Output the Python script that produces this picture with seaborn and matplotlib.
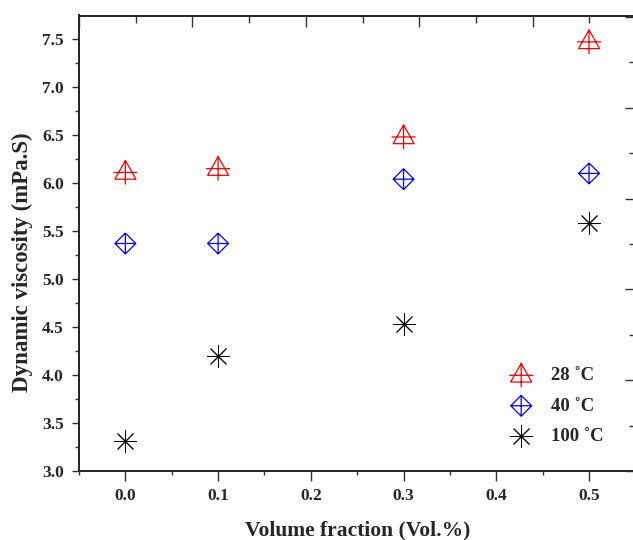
import numpy as np
import pandas as pd
import seaborn as sns
import matplotlib.pyplot as plt
from matplotlib.path import Path
from matplotlib.ticker import MultipleLocator

volume_fraction = [0.0, 0.1, 0.3, 0.5]
visc_28 = [6.11, 6.15, 6.48, 7.47]
visc_40 = [5.37, 5.37, 6.04, 6.10]
visc_100 = [3.31, 4.20, 4.53, 5.58]
labels = ["28 ˚C", "40 ˚C", "100 ˚C"]
colors = ["#ff0000", "#0000ff", "#000000"]

# custom open markers: triangle with a cross, diamond with a cross
M, L = Path.MOVETO, Path.LINETO
tri_plus = Path(
    [(-10.5, -6.7), (0, 12), (10.5, -6.7), (-10.5, -6.7),
     (-12, 0), (12, 0), (0, 12), (0, -12)],
    [M, L, L, L, M, L, M, L],
)
dia_plus = Path(
    [(0, 1), (1, 0), (0, -1), (-1, 0), (0, 1),
     (-1, 0), (1, 0), (0, 1), (0, -1)],
    [M, L, L, L, L, M, L, M, L],
)

df = pd.concat([
    pd.DataFrame({"x": volume_fraction, "y": v, "T": lab})
    for v, lab in zip([visc_28, visc_40, visc_100], labels)
])

sns.set_theme(style="ticks")
plt.rcParams["font.family"] = ["Liberation Serif", "DejaVu Serif"]
plt.rcParams["font.weight"] = "bold"

fig = plt.figure(figsize=(6.33, 5.4), dpi=100)
ax = fig.add_axes([79 / 633, 69 / 540, 556.4 / 633, 455.5 / 540])

specs = [(tri_plus, 300, 0.9), (dia_plus, 225, 0.9), ((8, 2, 0), 240, 0.7)]
for (mk, s, lw), lab, col in zip(specs, labels, colors):
    sub = df[df["T"] == lab]
    kw = {"facecolors": "none", "edgecolors": col} if isinstance(mk, Path) else {}
    sns.scatterplot(x="x", y="y", data=sub, marker=mk, s=s, ax=ax,
                    color=col, linewidths=lw, label=lab, **kw)

ax.set_xlim(-0.05, 0.55)
ax.set_ylim(3.0, 7.745)
ax.xaxis.set_major_locator(MultipleLocator(0.1))
ax.xaxis.set_minor_locator(MultipleLocator(0.05))
ax.yaxis.set_major_locator(MultipleLocator(0.5))
ax.yaxis.set_minor_locator(MultipleLocator(0.25))
ax.tick_params(which="major", direction="out", length=6, width=1,
               labelsize=12.5, color="#333333")
ax.tick_params(which="minor", direction="out", length=3, width=1,
               color="#333333")
ax.tick_params(axis="x", which="major", length=7, pad=5)
ax.tick_params(axis="y", which="major", length=5, pad=6)
for lab in ax.get_xticklabels() + ax.get_yticklabels():
    lab.set_fontweight("bold")
for sp in ax.spines.values():
    sp.set_color("#444444")
    sp.set_linewidth(1.1)

ax.set_xlabel("Volume fraction (Vol.%)", fontsize=15.5, fontweight="bold")
ax.set_ylabel("Dynamic viscosity (mPa.S)", fontsize=16.5, fontweight="bold")
ax.xaxis.set_label_coords(0.501, -0.1076)
ax.yaxis.set_label_coords(-0.083, 0.459)

# extra tick rows on top and right (independent scales)
top = ax.twiny()
top.set_xlim(0, 9.81)
top.xaxis.set_major_locator(MultipleLocator(2))
top.xaxis.set_minor_locator(MultipleLocator(1))
top.tick_params(axis="x", which="major", direction="in", length=8,
                width=1, labeltop=False, color="#333333")
top.tick_params(axis="x", which="minor", direction="in", length=5,
                width=1, color="#333333")
right = ax.twinx()
right.set_ylim(0, 10.03)
right.yaxis.set_major_locator(MultipleLocator(2))
right.yaxis.set_minor_locator(MultipleLocator(1))
right.tick_params(axis="y", which="major", direction="in", length=7,
                  width=1, labelright=False, color="#333333")
right.tick_params(axis="y", which="minor", direction="in", length=4,
                  width=1, color="#333333")

ax.legend(loc="upper left", bbox_to_anchor=(494 / 633, 1 - 354 / 540),
          bbox_transform=fig.transFigure, frameon=False,
          prop={"size": 13.5, "weight": "bold"}, handlelength=1.5,
          handletextpad=0.85, labelspacing=0.71, borderpad=0.2)

fig.savefig("out.png", dpi=100)
